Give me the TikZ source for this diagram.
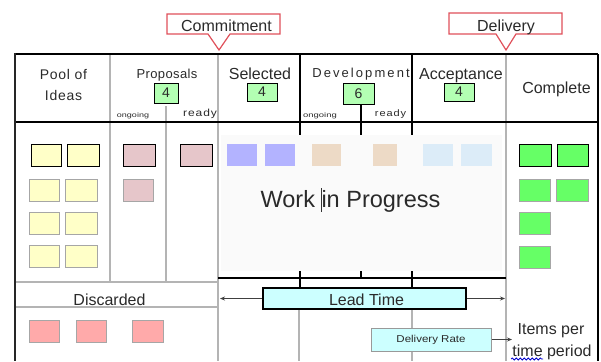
\documentclass[tikz,border=0pt]{standalone}
\usepackage{fontspec}
\usepackage{graphicx}
\setmainfont{Liberation Sans}
\newfontfamily\spacedA[LetterSpace=5]{Liberation Sans}
\newfontfamily\spacedB[LetterSpace=16]{Liberation Sans}
\newfontfamily\spacedC[LetterSpace=8]{Liberation Sans}
\newfontfamily\spacedD[LetterSpace=3]{Liberation Sans}
\usetikzlibrary{arrows.meta,decorations.pathmorphing}
\definecolor{txt}{HTML}{2A2A2A}
\definecolor{linegray}{HTML}{B4B4B4}
\definecolor{cardyellow}{HTML}{FFFFC8}
\definecolor{cardpink}{HTML}{E6C6CA}
\definecolor{cardblue}{HTML}{B3B3FF}
\definecolor{cardtan}{HTML}{EDDAC6}
\definecolor{cardlblue}{HTML}{DCECF8}
\definecolor{cardgreen}{HTML}{66FF66}
\definecolor{cardred}{HTML}{FFAAAA}
\definecolor{numgreen}{HTML}{B3FFB3}
\definecolor{ltcyan}{HTML}{CCFFFF}
\definecolor{callred}{HTML}{E0505A}
\definecolor{wipbg}{HTML}{FAFAFA}
\begin{document}
\begin{tikzpicture}[x=1pt,y=-1pt,
  card/.style={minimum width=30pt,minimum height=22pt,inner sep=0pt,outer sep=0pt},
  bcard/.style={card,draw=black,line width=0.9pt},
  gcard/.style={card,draw=gray!70,line width=0.9pt},
  numbox/.style={draw=black,line width=1pt,fill=numgreen,inner sep=0pt,text=txt,font=\fontsize{14}{14}\selectfont},
  lbl/.style={text=txt,inner sep=0pt,anchor=base,font=\fontsize{16}{18}\selectfont},
  small/.style={text=txt,inner sep=0pt,anchor=base},
  gline/.style={draw=linegray,line width=2pt},
  bline/.style={draw=black,line width=1.3pt},
  callout/.style={draw=callred,line width=1.2pt,fill=white},
  arr/.style={draw=black!75,line width=1.2pt,-{Stealth[length=5pt,width=4pt]}}
]
\useasboundingbox (0,0) rectangle (601,361);
% WIP background
\fill[wipbg] (221,135) rectangle (502,271);
% grid lines
\draw[gline] (110,54) -- (110,281);
\draw[gline] (166,106) -- (166,281);
\draw[gline] (218,54) -- (218,361);
\draw[gline] (506,54) -- (506,361);
\draw[gline] (15,281.5) -- (218,281.5);
\draw[gline] (15,307) -- (218,307);
\draw[gline] (299,288) -- (299,361);
\draw[gline] (412,288) -- (412,361);
\draw[bline] (300,54) -- (300,135);
\draw[bline] (412,54) -- (412,135);
\draw[bline] (361,104) -- (361,135);
\draw[bline] (218,278) -- (506,278);
\draw[bline] (300,271) -- (300,288);
\draw[bline] (361,271) -- (361,278);
\draw[bline] (412,271) -- (412,288);
% frame
\draw[line width=1.4pt] (15,54) -- (598,54);
\draw[line width=1.2pt] (15,122) -- (598,122);
\draw[line width=1.4pt] (598,54) -- (598,361);
\draw[line width=2pt,draw=black!85] (15,53.3) -- (15,361);
% callouts
\draw[callout] (167,14) -- (280,14) -- (280,34) -- (230,34) -- (219,50) -- (208,34) -- (167,34) -- cycle;
\node[lbl] (commit) at (226.5,31) {Commitment};
\draw[callout] (449,13) -- (562,13) -- (562,34) -- (516,34) -- (506,50) -- (496,34) -- (449,34) -- cycle;
\node[lbl] (deliv) at (506,31) {Delivery};
% header texts
\node[small,font=\spacedA\fontsize{14}{16}\selectfont] (pool1) at (63.5,79) {Pool of};
\node[small,font=\spacedA\fontsize{14}{16}\selectfont] (pool2) at (63.5,100) {Ideas};
\node[small,font=\spacedD\fontsize{13}{16}\selectfont] (prop) at (167,78) {Proposals};
\node[numbox,minimum width=24pt,minimum height=20pt] (n1) at (166,93) {4};
\node[small,font=\fontsize{9}{9}\selectfont] (og1) at (133,117.5) {\scalebox{1}[0.75]{ongoing}};
\node[small,font=\spacedC\fontsize{12}{12}\selectfont] (rd1) at (200,116.5) {\scalebox{1}[0.85]{ready}};
\node[lbl] (sel) at (260,79) {Selected};
\node[numbox,minimum width=30pt,minimum height=18pt] (n2) at (262,92) {4};
\node[small,font=\spacedB\fontsize{13}{16}\selectfont] (dev) at (361,77.5) {Development};
\node[numbox,minimum width=31pt,minimum height=21pt] (n3) at (358.5,93.5) {6};
\node[small,font=\fontsize{9}{9}\selectfont] (og2) at (320,117.5) {\scalebox{1.05}[0.75]{ongoing}};
\node[small,font=\spacedC\fontsize{11}{11}\selectfont] (rd2) at (390.5,116.5) {\scalebox{1}[0.85]{ready}};
\node[lbl] (acc) at (461,79) {Acceptance};
\node[numbox,minimum width=30pt,minimum height=18pt] (n4) at (459,92) {4};
\node[lbl] (compl) at (556.5,93) {Complete};
% pool cards
\node[bcard,fill=cardyellow,minimum width=30pt] (p11) at (46,155) {};
\node[bcard,fill=cardyellow,minimum width=32pt] (p12) at (83,155) {};
\node[gcard,fill=cardyellow] (p21) at (44,190.5) {};
\node[gcard,fill=cardyellow,minimum width=32pt] (p22) at (81,190.5) {};
\node[gcard,fill=cardyellow] (p31) at (44,223.5) {};
\node[gcard,fill=cardyellow,minimum width=32pt] (p32) at (81,223.5) {};
\node[gcard,fill=cardyellow] (p41) at (44,256.5) {};
\node[gcard,fill=cardyellow,minimum width=32pt] (p42) at (81,256.5) {};
% proposals
\node[bcard,fill=cardpink,minimum width=32pt] (pr1) at (139,155) {};
\node[gcard,fill=cardpink] (pr2) at (138,190.5) {};
\node[bcard,fill=cardpink,minimum width=32pt] (pr3) at (196,155) {};
% selected / development / acceptance
\node[card,fill=cardblue] (s1) at (242,155) {};
\node[card,fill=cardblue] (s2) at (280,155) {};
\node[card,fill=cardtan,minimum width=29pt] (d1) at (326.5,155) {};
\node[card,fill=cardtan,minimum width=24pt] (d2) at (385,155) {};
\node[card,fill=cardlblue] (a1) at (438,155) {};
\node[card,fill=cardlblue,minimum width=31pt] (a2) at (476.5,155) {};
% complete
\node[bcard,fill=cardgreen,minimum width=32pt] (c11) at (535,155) {};
\node[bcard,fill=cardgreen,minimum width=31pt] (c12) at (572.5,155) {};
\node[gcard,fill=cardgreen,minimum width=31pt] (c21) at (534.5,190.5) {};
\node[gcard,fill=cardgreen,minimum width=32pt] (c22) at (572,190.5) {};
\node[gcard,fill=cardgreen,minimum width=31pt] (c31) at (534.5,223.5) {};
\node[gcard,fill=cardgreen,minimum width=31pt] (c41) at (534.5,257) {};
% discarded
\node[lbl] (disc) at (109.5,305) {Discarded};
\node[gcard,fill=cardred] (x1) at (44,331) {};
\node[gcard,fill=cardred] (x2) at (91,331) {};
\node[gcard,fill=cardred,minimum width=31pt] (x3) at (147.5,331) {};
% WIP
\node[small,font=\fontsize{23.5}{25}\selectfont] (wip) at (350.5,207) {Work in Progress};
\draw[black!80,line width=0.9pt] (321.5,188) -- (321.5,212);
% lead time
\node[draw=black,line width=1.3pt,fill=ltcyan,minimum width=203pt,minimum height=21pt,inner sep=0pt] (lt) at (364.5,298.5) {};
\node[lbl] (lttext) at (366.5,305) {Lead Time};
\coordinate (ltl) at (220,298.5);
\coordinate (ltr) at (505,298.5);
\draw[arr] (lt.west) -- (ltl);
\draw[arr] (lt.east) -- (ltr);
% delivery rate
\node[draw=gray!80,line width=1pt,fill=ltcyan,minimum width=120pt,minimum height=23pt,inner sep=0pt,text=txt,font=\fontsize{10}{10}\selectfont] (dr) at (431,339.5) {\scalebox{1.15}[1]{Delivery Rate}};
\coordinate (drr) at (512,339.5);
\draw[arr] (dr.east) -- (drr);
\node[lbl] (ipt1) at (551,334) {Items per};
\node[lbl] (ipt2) at (552,356) {time period};
\draw[blue!80!black,line width=0.8pt,decorate,decoration={snake,amplitude=1pt,segment length=4pt}] (511,359) -- (543,359);
\end{tikzpicture}
\end{document}
